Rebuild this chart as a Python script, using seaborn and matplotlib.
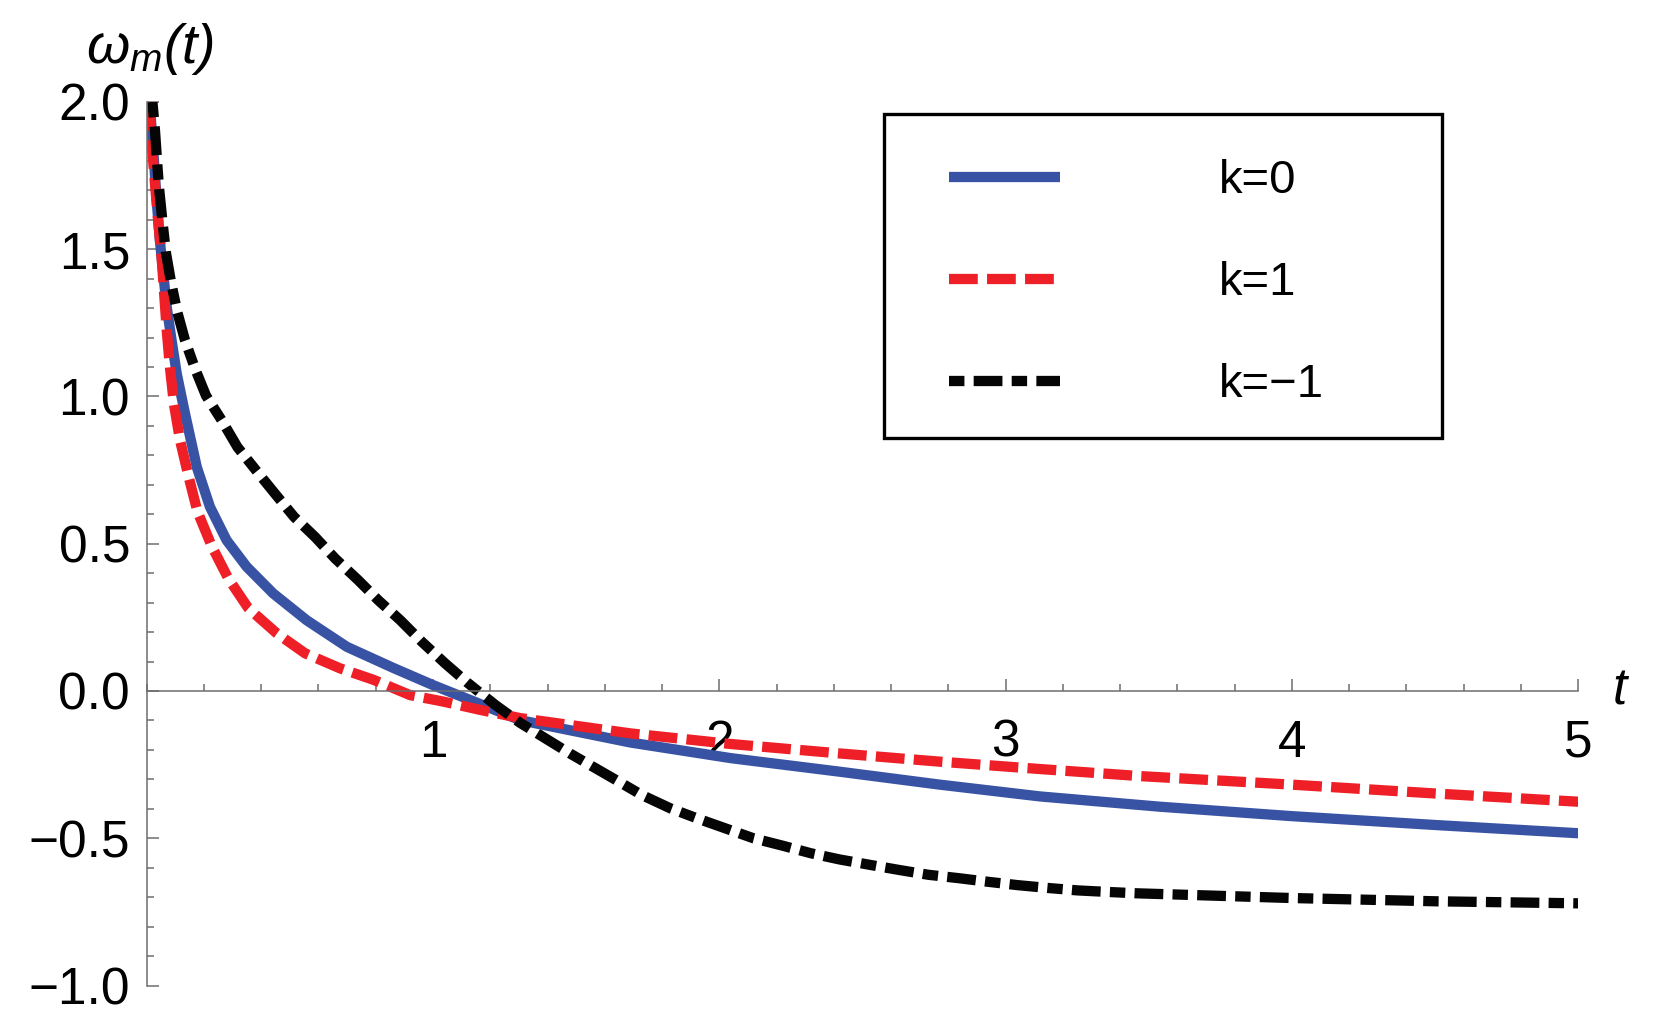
import numpy as np
import pandas as pd
import matplotlib
matplotlib.use("Agg")
import matplotlib.pyplot as plt
from matplotlib.ticker import MultipleLocator, FixedLocator, FuncFormatter
from matplotlib.lines import Line2D
from matplotlib.patches import Rectangle
from matplotlib.legend_handler import HandlerLine2D
import seaborn as sns

# values
t_k0 = [0.010, 0.023, 0.035, 0.046, 0.058, 0.070, 0.087, 0.105, 0.134, 0.175, 0.221, 0.279,
        0.349, 0.442, 0.559, 0.699, 0.862, 1.000, 1.200, 1.304, 1.690, 2.040, 2.420, 2.770,
        3.120, 3.540, 4.000, 4.500, 5.000]
w_k0 = [2.000, 1.834, 1.664, 1.529, 1.416, 1.303, 1.190, 1.077, 0.941, 0.760, 0.625, 0.512,
        0.422, 0.331, 0.240, 0.150, 0.078, 0.020, -0.058, -0.099, -0.175, -0.228, -0.274, -0.318,
        -0.358, -0.393, -0.425, -0.455, -0.483]

t_k1 = [0.006, 0.029, 0.041, 0.052, 0.061, 0.070, 0.081, 0.095, 0.116, 0.146, 0.177, 0.227,
        0.285, 0.355, 0.454, 0.553, 0.675, 0.792, 0.920, 1.036, 1.164, 1.304, 1.690, 2.040,
        2.420, 2.770, 3.120, 3.470, 4.000, 4.500, 5.000]
w_k1 = [2.000, 1.721, 1.585, 1.472, 1.348, 1.224, 1.100, 0.975, 0.853, 0.729, 0.610, 0.492,
        0.382, 0.281, 0.196, 0.128, 0.077, 0.038, -0.014, -0.036, -0.064, -0.092, -0.144, -0.180,
        -0.212, -0.240, -0.265, -0.289, -0.318, -0.348, -0.376]

t_km1 = [0.020, 0.029, 0.037, 0.043, 0.056, 0.067, 0.085, 0.107, 0.134, 0.169, 0.207, 0.262,
         0.317, 0.382, 0.448, 0.515, 0.588, 0.658, 0.739, 0.809, 0.885, 0.960, 1.042, 1.118,
         1.217, 1.304, 1.478, 1.653, 1.729, 1.828, 1.921, 2.020, 2.119, 2.220, 2.320, 2.420,
         2.530, 2.630, 2.730, 2.840, 2.940, 3.040, 3.150, 3.250, 3.350, 3.460, 4.000, 4.500, 5.000]
w_km1 = [2.000, 1.902, 1.788, 1.709, 1.585, 1.489, 1.388, 1.286, 1.190, 1.094, 1.003, 0.919,
         0.828, 0.749, 0.670, 0.591, 0.523, 0.450, 0.376, 0.308, 0.241, 0.168, 0.094, 0.030,
         -0.047, -0.108, -0.212, -0.310, -0.353, -0.398, -0.432, -0.466, -0.500, -0.525, -0.551, -0.572,
         -0.591, -0.608, -0.624, -0.636, -0.648, -0.659, -0.669, -0.677, -0.682, -0.687, -0.703, -0.714, -0.721]

labels = ["k=0", "k=1", "k=\u22121"]
colors = ["#3953a4", "#ee1f26", "#050505"]
styles = ["-", (0, (2.8, 0.9)), (0, (1.5, 0.9, 2.8, 0.9))]

sns.set_style("white")
plt.rcParams['font.family'] = ['Liberation Sans', 'DejaVu Sans']
plt.rcParams['text.color'] = 'black'
plt.rcParams['mathtext.fontset'] = 'custom'
plt.rcParams['mathtext.it'] = 'Liberation Sans:italic'
plt.rcParams['mathtext.rm'] = 'Liberation Sans:italic'

fig = plt.figure(figsize=(16.69, 10.34), dpi=100)
ax = fig.add_axes([0.0879, 0.0469, 0.8577, 0.8545])

series = [(t_k0, w_k0), (t_k1, w_k1), (t_km1, w_km1)]
for (t, w), lab, c, ls in zip(series, labels, colors, styles):
    df = pd.DataFrame({"t": t, "w": w})
    sns.lineplot(data=df, x="t", y="w", ax=ax, color=c, linestyle=ls, linewidth=7.4,
                 label=lab, sort=False, solid_capstyle='butt', dash_capstyle='butt',
                 solid_joinstyle='round')

ax.set_xlim(0, 5)
ax.set_ylim(-1, 2)
ax.set_xlabel("")
ax.set_ylabel("")

# axes crossing at the origin, like Mathematica
ax.spines['top'].set_visible(False)
ax.spines['right'].set_visible(False)
ax.spines['bottom'].set_position(('data', 0))
for s in ['left', 'bottom']:
    ax.spines[s].set_color('#6d6d6d')
    ax.spines[s].set_linewidth(1.1)

ax.xaxis.set_major_locator(FixedLocator([1, 2, 3, 4, 5]))
ax.xaxis.set_minor_locator(MultipleLocator(0.2))
ax.yaxis.set_major_locator(MultipleLocator(0.5))
ax.yaxis.set_minor_locator(MultipleLocator(0.1))
ax.yaxis.set_major_formatter(FuncFormatter(lambda v, p: ('%.1f' % v).replace('-', '\u2212')))
ax.xaxis.set_major_formatter(FuncFormatter(lambda v, p: '%d' % v))
ax.tick_params(which='both', direction='in', color='#6d6d6d', width=1.1, labelsize=37,
               labelcolor='black', bottom=True, left=True)
ax.tick_params(which='major', length=8.6)
ax.tick_params(which='minor', length=5)
ax.tick_params(axis='x', which='major', pad=20)
ax.tick_params(axis='y', which='major', pad=12)

ax.text(0.01, 2.18, r'$\omega_m(t)$', fontsize=40, ha='center', va='center', clip_on=False)
ax.text(5.146, 0.0, 't', fontsize=37, style='italic', ha='center', va='center', clip_on=False)

# legend entries, with a separate square frame around them
leg = ax.legend(loc='upper left', bbox_to_anchor=(0.5151, 0.6197, 0.3898, 0.3667),
                mode='expand', fontsize=34, frameon=False,
                handlelength=2.77, handletextpad=3.37, labelspacing=1.23, borderpad=0.96,
                borderaxespad=0, handler_map={Line2D: HandlerLine2D(xpad=0.42)})
for txt in leg.get_texts():
    txt.set_color('black')
ax.add_patch(Rectangle((0.5151, 0.6197), 0.3898, 0.3667, transform=ax.transAxes,
                       fill=False, edgecolor='black', linewidth=2.4, clip_on=False, zorder=5))

fig.savefig("out.png", dpi=100)
